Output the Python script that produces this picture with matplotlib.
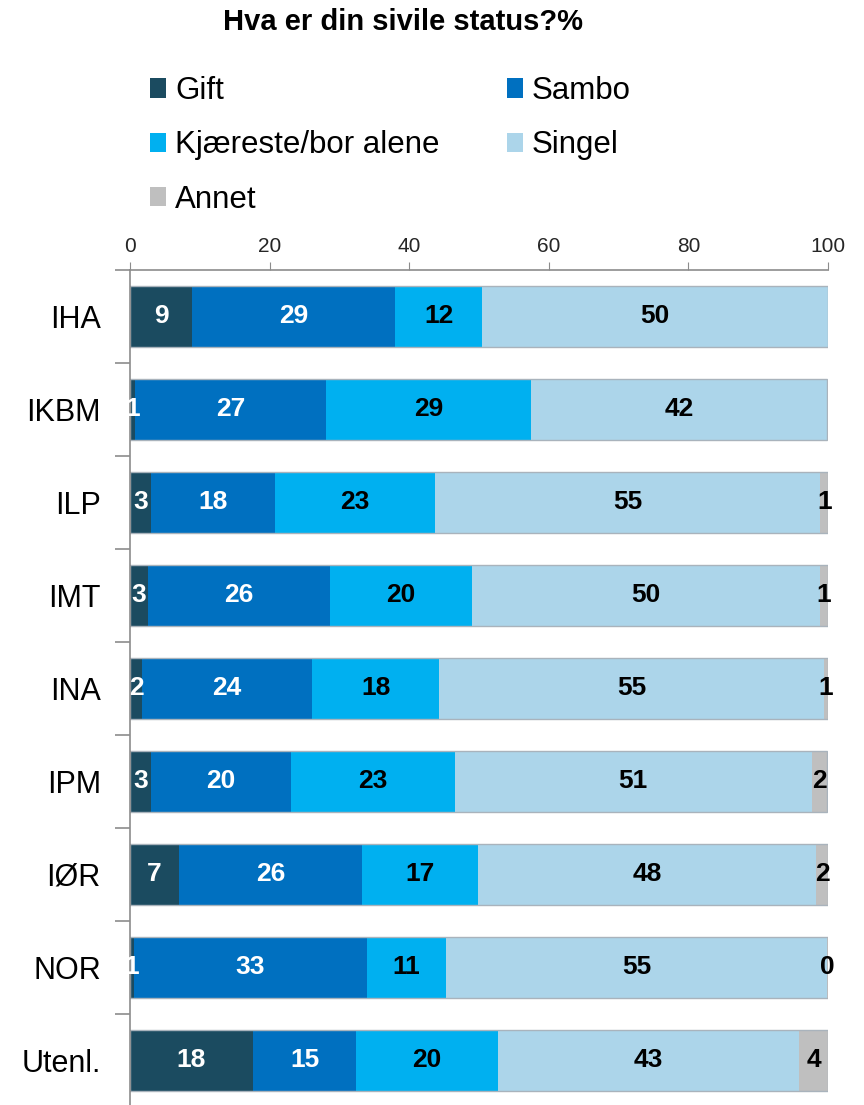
import matplotlib.pyplot as plt
from matplotlib.patches import Patch

plt.rcParams['font.family'] = ['Liberation Sans', 'DejaVu Sans']

groups = ["IHA", "IKBM", "ILP", "IMT", "INA", "IPM", "IØR", "NOR", "Utenl."]
series = ["Gift", "Sambo", "Kjæreste/bor alene", "Singel", "Annet"]
gift   = [8.9, 0.7, 3.0, 2.6, 1.7, 3.0, 7.0, 0.6, 17.6]
sambo  = [29.1, 27.4, 17.7, 26.0, 24.4, 20.1, 26.2, 33.3, 14.8]
kjaer  = [12.4, 29.4, 23.0, 20.4, 18.2, 23.4, 16.7, 11.4, 20.3]
singel = [49.6, 42.4, 55.2, 49.8, 55.1, 51.2, 48.4, 54.6, 43.2]
annet  = [0, 0, 1.1, 1.2, 0.6, 2.2, 1.7, 0.1, 4.1]

colors = ["#1b4b60", "#0070c0", "#00b0f0", "#acd5ea", "#bfbfbf"]
txtcol = ["white", "white", "black", "black", "black"]

fig = plt.figure(figsize=(8.64, 11.05), dpi=100)
ax = fig.add_axes([0.1505, -0.0018, 0.8079, 0.7579])

y = list(range(len(groups)))
left = [0.0] * len(groups)
for vals, col, tc in zip([gift, sambo, kjaer, singel, annet], colors, txtcol):
    ax.barh(y, vals, left=left, height=0.655, color=col, linewidth=0)
    for i, v in enumerate(vals):
        if v > 0:
            ax.text(left[i] + v / 2, i, f"{v:.0f}", ha="center", va="center",
                    color=tc, fontsize=19, fontweight="bold", clip_on=False)
    left = [a + b for a, b in zip(left, vals)]

# thin outline around each stacked row
ax.barh(y, left, height=0.655, fill=False, edgecolor="#a9b3bc", linewidth=1.0)

ax.set_xlim(0, 100)
ax.set_ylim(len(groups) - 0.5, -0.5)
ax.xaxis.tick_top()
ax.set_xticks([0, 20, 40, 60, 80, 100])
ax.tick_params(axis="x", length=6, color="#8c8c8c", labelsize=15,
               labelcolor="#262626", pad=4)
ax.set_yticks(y)
ax.set_yticklabels(groups, fontsize=22)
ax.set_yticks([i + 0.5 for i in range(-1, len(groups))], minor=True)
ax.tick_params(axis="y", which="major", length=0, pad=21)
ax.tick_params(axis="y", which="minor", length=11, color="#8c8c8c", width=1.2)
for s in ["right", "bottom"]:
    ax.spines[s].set_visible(False)
for s in ["top", "left"]:
    ax.spines[s].set_color("#8c8c8c")
    ax.spines[s].set_linewidth(1.2)

fig.text(0.4664, 0.980, "Hva er din sivile status?%", ha="center", va="center",
         fontsize=21, fontweight="bold")

order = [0, 2, 4, 1, 3]
handles = [Patch(facecolor=colors[k], edgecolor="none") for k in order]
labels = [series[k] for k in order]
fig.legend(handles, labels, ncol=2, loc="upper left",
           bbox_to_anchor=(150 / 864, 1 - 76 / 1105), frameon=False,
           fontsize=22.5, handlelength=0.51, handleheight=0.58,
           handletextpad=0.29, columnspacing=2.15, labelspacing=0.78,
           borderpad=0, borderaxespad=0)

fig.savefig("out.png", dpi=100)
